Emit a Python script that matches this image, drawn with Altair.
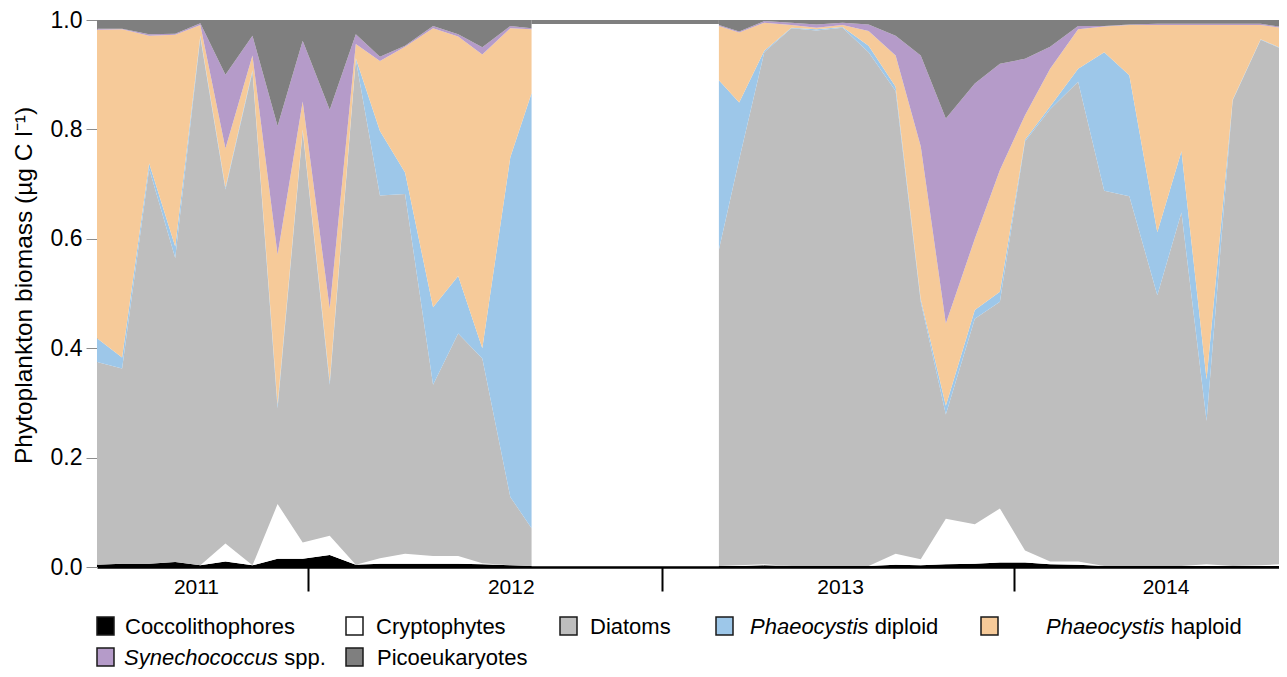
import altair as alt
import pandas as pd

# ---------------- data ----------------
series = ["Coccolithophores", "Cryptophytes", "Diatoms", "Phaeocystis diploid",
          "Phaeocystis haploid", "Synechococcus spp.", "Picoeukaryotes"]
colors = ["#000000", "#ffffff", "#bebebe", "#9dc7e9", "#f6ca99", "#b59bc9", "#7f7f7f"]

dates_a = ["2011-05-27", "2011-06-22", "2011-07-20", "2011-08-16", "2011-09-11", "2011-10-07",
           "2011-11-04", "2011-11-30", "2011-12-26", "2012-01-23", "2012-02-19", "2012-03-15",
           "2012-04-10", "2012-05-09", "2012-06-04", "2012-06-29", "2012-07-28", "2012-08-19"]
cocco_a = [.004, .006, .006, .009, .003, .010, .003, .015, .015, .022, .004, .006, .006, .006, .006, .005, .003, .002]
crypto_a = [.000, .000, .000, .000, .000, .033, .000, .100, .030, .035, .000, .010, .018, .014, .014, .002, .000, .000]
diatom_a = [.371, .357, .722, .556, .965, .647, .902, .175, .752, .276, .924, .663, .658, .313, .407, .374, .125, .069]
diplo_a = [.043, .020, .010, .021, .003, .004, .003, .007, .003, .006, .002, .118, .039, .142, .105, .019, .621, .795]
haplo_a = [.564, .600, .233, .387, .020, .071, .027, .274, .051, .133, .026, .128, .230, .510, .438, .537, .236, .117]
synec_a = [.002, .001, .003, .002, .003, .135, .036, .235, .111, .364, .018, .008, .002, .004, .004, .013, .004, .002]
pico_a = [.016, .016, .026, .025, .006, .100, .029, .194, .038, .164, .026, .067, .047, .011, .026, .050, .011, .015]

dates_b = ["2013-03-01", "2013-03-22", "2013-04-17", "2013-05-15", "2013-06-10", "2013-07-07",
           "2013-08-03", "2013-08-31", "2013-09-26", "2013-10-22", "2013-11-21", "2013-12-17",
           "2014-01-12", "2014-02-07", "2014-03-08", "2014-04-04", "2014-04-30", "2014-05-29",
           "2014-06-23", "2014-07-19", "2014-08-15", "2014-09-13", "2014-10-10"]
cocco_b = [.002, .002, .003, .002, .002, .002, .002, .004, .003, .005, .006, .008, .008, .005, .004, .002, .002, .002, .002, .002, .002, .002, .002]
crypto_b = [.000, .001, .002, .000, .000, .000, .000, .020, .011, .083, .072, .099, .022, .005, .006, .000, .000, .000, .000, .003, .000, .001, .004]
diatom_b = [.578, .742, .936, .983, .979, .984, .939, .846, .471, .191, .376, .378, .748, .827, .877, .686, .676, .495, .646, .262, .851, .961, .937]
diplo_b = [.310, .104, .003, .001, .002, .001, .012, .008, .005, .016, .016, .018, .003, .005, .024, .253, .221, .115, .112, .076, .001, .001, .001]
haplo_b = [.099, .128, .051, .005, .003, .004, .027, .057, .279, .150, .130, .223, .045, .069, .072, .047, .092, .379, .231, .648, .137, .026, .040]
synec_b = [.002, .002, .003, .004, .006, .004, .012, .036, .166, .375, .284, .194, .103, .040, .006, .001, .001, .002, .002, .002, .002, .002, .002]
pico_b = [.009, .021, .002, .005, .008, .005, .008, .029, .065, .180, .116, .080, .071, .049, .011, .011, .008, .007, .007, .007, .007, .007, .014]

year_labels = ["2011", "2012", "2013", "2014"]
year_label_dates = ["2011-09-07", "2012-07-29", "2013-07-05", "2014-06-07"]
year_ticks = [2012, 2013, 2014]
x_view_end = "2014-10-02"   # right edge of the visible window (last sample runs off the edge)


def long_table(dates, cols):
    rows = []
    for i, d in enumerate(dates):
        for k, name in enumerate(series):
            rows.append({"date": d, "group": name, "order": k, "value": cols[k][i]})
    return pd.DataFrame(rows)


df_a = long_table(dates_a, [cocco_a, crypto_a, diatom_a, diplo_a, haplo_a, synec_a, pico_a])
df_b = long_table(dates_b, [cocco_b, crypto_b, diatom_b, diplo_b, haplo_b, synec_b, pico_b])

FONT = "Liberation Sans"
TOP = 12
W, H = 1182, 567 - 8 - TOP

xscale = alt.Scale(type="utc", domain=[dates_a[0], x_view_end], nice=False)

x_enc = alt.X("date:T", scale=xscale,
              axis=alt.Axis(values=[alt.DateTime(year=y, month=1, date=1, utc=True) for y in year_ticks],
                            labels=False, title=None, grid=False,
                            domainColor="#000000", domainWidth=2.5,
                            tickColor="#000000", tickWidth=2, tickSize=24))
y_enc = alt.Y("value:Q", stack="zero",
              scale=alt.Scale(domain=[0, 1], nice=False),
              axis=alt.Axis(values=[0, 0.2, 0.4, 0.6, 0.8, 1.0], format=".1f",
                            title="Phytoplankton biomass (µg C l⁻¹)",
                            titleFontSize=24.5, titleFontWeight="normal", titleFont=FONT,
                            titleColor="#000000", titleX=-73, titleY=285 - 8 - TOP,
                            titleBaseline="middle", titleAngle=-90,
                            labelFontSize=23, labelFont=FONT, labelColor="#000000",
                            labelPadding=4, tickSize=11, tickColor="#8c8c8c", tickWidth=1,
                            domainColor="#9a9a9a", domainWidth=1, grid=False))
c_enc = alt.Color("group:N", scale=alt.Scale(domain=series, range=colors), legend=None)
o_enc = alt.Order("order:Q", sort="ascending")

area_a = alt.Chart(df_a).mark_area(interpolate="linear", clip=True).encode(
    x=x_enc, y=y_enc, color=c_enc, order=o_enc)
area_b = alt.Chart(df_b).mark_area(interpolate="linear", clip=True).encode(
    x=x_enc, y=y_enc, color=c_enc, order=o_enc)

# thin dark band along the top across the sampling gap, as in the original
gap = pd.DataFrame({"start": [dates_a[-1]], "end": [dates_b[0]]})
gap_band = alt.Chart(gap).mark_rect(color="#7f7f7f").encode(
    x=alt.X("start:T", scale=xscale), x2="end:T",
    y=alt.value(0), y2=alt.value(4),
)

years = pd.DataFrame({"year": year_labels, "date": year_label_dates})
year_text = alt.Chart(years).mark_text(fontSize=21, font=FONT, baseline="middle",
                                        align="center", color="#000000").encode(
    x=alt.X("date:T", scale=xscale), y=alt.value(588 - 8 - TOP), text="year:N",
)

# ---------------- legend (manual, for mixed italic text) ----------------
one = pd.DataFrame({"k": [0]})
legend_layers = []
ROW1, ROW2 = 626, 657
# (series index, swatch x in page px, row centre y in page px, italic part, regular part, text x)
layout = [
    (0, 97, ROW1, "", "Coccolithophores", 125),
    (1, 346, ROW1, "", "Cryptophytes", 376),
    (2, 560, ROW1, "", "Diatoms", 590),
    (3, 716, ROW1, "Phaeocystis", "diploid", 750),
    (4, 981, ROW1, "Phaeocystis", "haploid", 1046),
    (5, 97, ROW2, "Synechococcus", "spp.", 124),
    (6, 346, ROW2, "", "Picoeukaryotes", 377),
]
ITALIC_W = {"Phaeocystis": 124.7, "Synechococcus": 160.2}
for idx, sx, cy, ital, reg, tx in layout:
    px, py = sx - 97, cy - 8 - TOP
    legend_layers.append(
        alt.Chart(one).mark_rect(fill=colors[idx], stroke="#1a1a1a", strokeWidth=1.5).encode(
            x=alt.value(px), x2=alt.value(px + 17), y=alt.value(py - 9), y2=alt.value(py + 9)))
    tpx = tx - 97
    if ital:
        legend_layers.append(
            alt.Chart(one).mark_text(fontSize=22, font=FONT, fontStyle="italic", align="left",
                                     baseline="middle", color="#000000").encode(
                x=alt.value(tpx), y=alt.value(py + 1), text=alt.value(ital)))
        tpx += ITALIC_W[ital]
    legend_layers.append(
        alt.Chart(one).mark_text(fontSize=22, font=FONT, align="left",
                                 baseline="middle", color="#000000").encode(
            x=alt.value(tpx), y=alt.value(py + 1), text=alt.value(reg)))

chart = alt.layer(area_a, area_b, gap_band, year_text, *legend_layers).properties(
    width=W, height=H,
    autosize=alt.AutoSizeParams(type="none"),
    padding={"left": 89, "top": TOP, "right": 0, "bottom": 661 - TOP - H},
).configure_view(stroke=None).configure(font=FONT)

chart.save("out.html", embed_options={"renderer": "svg", "actions": False})
